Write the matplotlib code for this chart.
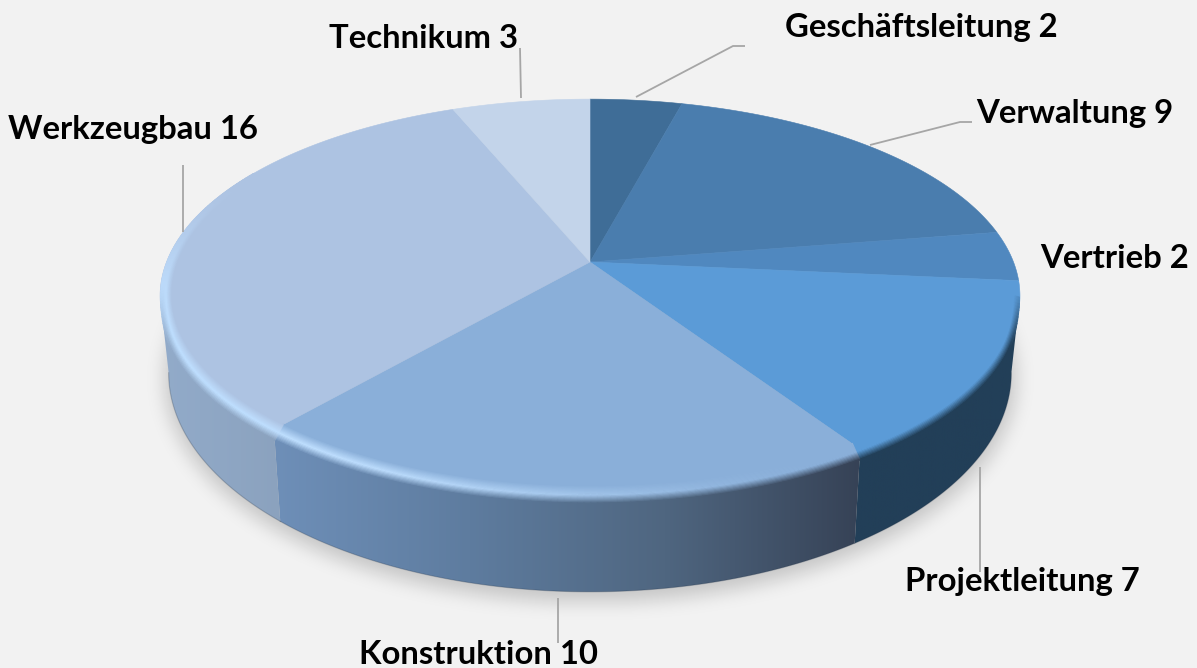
import numpy as np
import matplotlib
matplotlib.use('Agg')
import matplotlib.pyplot as plt
from matplotlib.collections import LineCollection
from matplotlib.colors import to_rgb
from matplotlib.patches import Polygon

names = ['Geschäftsleitung', 'Verwaltung', 'Vertrieb', 'Projektleitung',
         'Konstruktion', 'Werkzeugbau', 'Technikum']
values = [2, 9, 2, 7, 10, 16, 3]
top_colors = ['#3F6D97', '#4A7DAE', '#5088BF', '#5B9BD7', '#8AAFD9', '#ADC3E2', '#C3D4EA']

# label left edge / vertical middle, pixels
label_pos = [(785, 27), (976, 114), (1040, 258), (905, 581), (359, 655), (8, 129), (329, 39)]
leaders = [
    [(636, 97), (733, 46), (745, 46)],
    [(870, 145), (960, 122), (972, 122)],
    [(980, 467), (980, 572)],
    [(558, 598), (558, 643)],
    [(183, 232), (183, 165)],
    [(520, 48), (521, 98)],
]

# side wall colours left to right, only the three front slices show one
side_stops = {
    3: ['#223F58', '#223F58'],
    4: ['#6E8FB8', '#5E7C9F', '#4F6680', '#364256'],
    5: ['#92ABCA', '#8BA2BE'],
}

W, H = 1197, 668
BG = '#F2F2F2'

# perspective of the disc
CX, CY = 590, 262
K = 0.1726
A, B = 191, 423.5
SIDE_START, SIDE_END = 99.9, 260.1


def top_pt(deg, r=1.0):
    t = np.radians(deg)
    u, v = r * np.sin(t), r * np.cos(t)
    w = 1 + K * v
    return CX + B * u / w, CY - A * v / w


def low_pt(deg):
    x, y = top_pt(deg)
    return CX + (x - CX) * 0.98, 373 + (y - 296) * 219 / 197


def side_rgb(i, x):
    stops = side_stops[i]
    xs = np.linspace(side_low[i], side_high[i], len(stops))
    rgb = np.array([to_rgb(c) for c in stops])
    return np.array([np.interp(x, xs, rgb[:, j]) for j in range(3)]).T


def smooth(a, lo, hi):
    s = np.clip((a - lo) / (hi - lo), 0, 1)
    return s * s * (3 - 2 * s)


edges = np.concatenate([[0], np.cumsum(values)]) * 360 / sum(values)

fig = plt.figure(figsize=(W / 100, H / 100), dpi=100, facecolor=BG)
ax = fig.add_axes([0, 0, 1, 1])
ax.set_xlim(0, W)
ax.set_ylim(H, 0)
ax.axis('off')

# soft shadow under the disc
yy, xx = np.mgrid[0:H, 0:W]
mask = (((xx - 590) / 426) ** 2 + ((yy - 378) / 224) ** 2 < 1).astype(float)
kernel = np.exp(-np.arange(-30, 31) ** 2 / (2 * 9.0 ** 2))
kernel /= kernel.sum()
mask = np.apply_along_axis(lambda c: np.convolve(c, kernel, mode='same'), 0, mask)
mask = np.apply_along_axis(lambda c: np.convolve(c, kernel, mode='same'), 1, mask)
shadow = np.zeros((H, W, 4))
shadow[..., 3] = mask * 0.18
ax.imshow(shadow, extent=(0, W, H, 0), zorder=1, aspect='auto')

# side walls
side_low, side_high = {}, {}
for i in side_stops:
    a0, a1 = max(edges[i], SIDE_START), min(edges[i + 1], SIDE_END)
    angs = np.linspace(a0, a1, 120)
    tx, ty = top_pt(angs)
    lx, ly = low_pt(angs)
    side_low[i] = min(tx.min(), lx.min())
    side_high[i] = max(tx.max(), lx.max())
    verts = np.vstack([np.c_[tx, ty], np.c_[lx, ly][::-1]])
    poly = Polygon(verts, closed=True, fc='none', ec='none', zorder=2)
    ax.add_patch(poly)
    grad_x = np.linspace(side_low[i], side_high[i], 256)
    grad = side_rgb(i, grad_x)[np.newaxis, :, :]
    im = ax.imshow(grad, extent=(side_low[i], side_high[i], ly.max() + 2, ty.min() - 2),
                   zorder=2, aspect='auto')
    im.set_clip_path(poly)
    ax.plot(lx, ly, color='#1E2E42', alpha=0.25, lw=0.8, zorder=2.5)

ax.set_xlim(0, W)
ax.set_ylim(H, 0)

# top face
for i, c in enumerate(top_colors):
    angs = np.linspace(edges[i], edges[i + 1], 120)
    x, y = top_pt(angs)
    verts = np.vstack([[CX, CY], np.c_[x, y]])
    ax.add_patch(Polygon(verts, closed=True, fc=c, ec=c, lw=0.4, zorder=3))

# rounded rim between top face and wall
n_layers = 16
highlight = np.array(to_rgb('#BFDFFF'))
segs, cols = [], []
for i, c in enumerate(top_colors):
    base = np.array(to_rgb(c))
    a0, a1 = max(edges[i], SIDE_START), min(edges[i + 1], 300)
    if a1 <= a0:
        continue
    angs = np.arange(a0, a1 + 0.75, 0.75)
    angs[-1] = min(angs[-1], a1)
    mids = (angs[:-1] + angs[1:]) / 2
    for t in np.linspace(0, 1, n_layers):
        g0 = smooth(-np.cos(np.radians(angs)), 0.1, 0.4)
        ix, iy = top_pt(angs, 0.975)
        ox, oy = top_pt(angs, 0.998)
        oy = oy + 11 * g0
        px, py = ix + (ox - ix) * t, iy + (oy - iy) * t
        pts = np.c_[px, py]
        mx = (px[:-1] + px[1:]) / 2
        h = smooth(mids, 150, 215) * (1 - smooth(mids, 250, 298))
        g = smooth(-np.cos(np.radians(mids)), 0.1, 0.4)
        if i in side_stops:
            wall = side_rgb(i, np.clip(mx, side_low[i], side_high[i]))
        else:
            wall = np.tile(base, (len(mx), 1))
        hl = base + (highlight - base) * h[:, None]
        if t < 0.55:
            col = base + (hl - base) * (t / 0.55)
        else:
            end = hl + (wall - hl) * g[:, None]
            col = hl + (end - hl) * ((t - 0.55) / 0.45)
        segs.extend(pts[j:j + 2] for j in range(len(mx)))
        cols.extend(col)
ax.add_collection(LineCollection(segs, colors=cols, linewidths=1.3, capstyle='round', zorder=4))

# leader lines and labels
for line in leaders:
    xs, ys = zip(*line)
    ax.plot(xs, ys, color='#A6A6A6', lw=1.3, zorder=5, solid_capstyle='butt')

for name, val, (x, y) in zip(names, values, label_pos):
    ax.text(x, y, f'{name} {val}', family='Lato', weight='bold', fontsize=23.7,
            color='black', ha='left', va='center', zorder=6)

fig.savefig('out.png', dpi=100, facecolor=BG)
